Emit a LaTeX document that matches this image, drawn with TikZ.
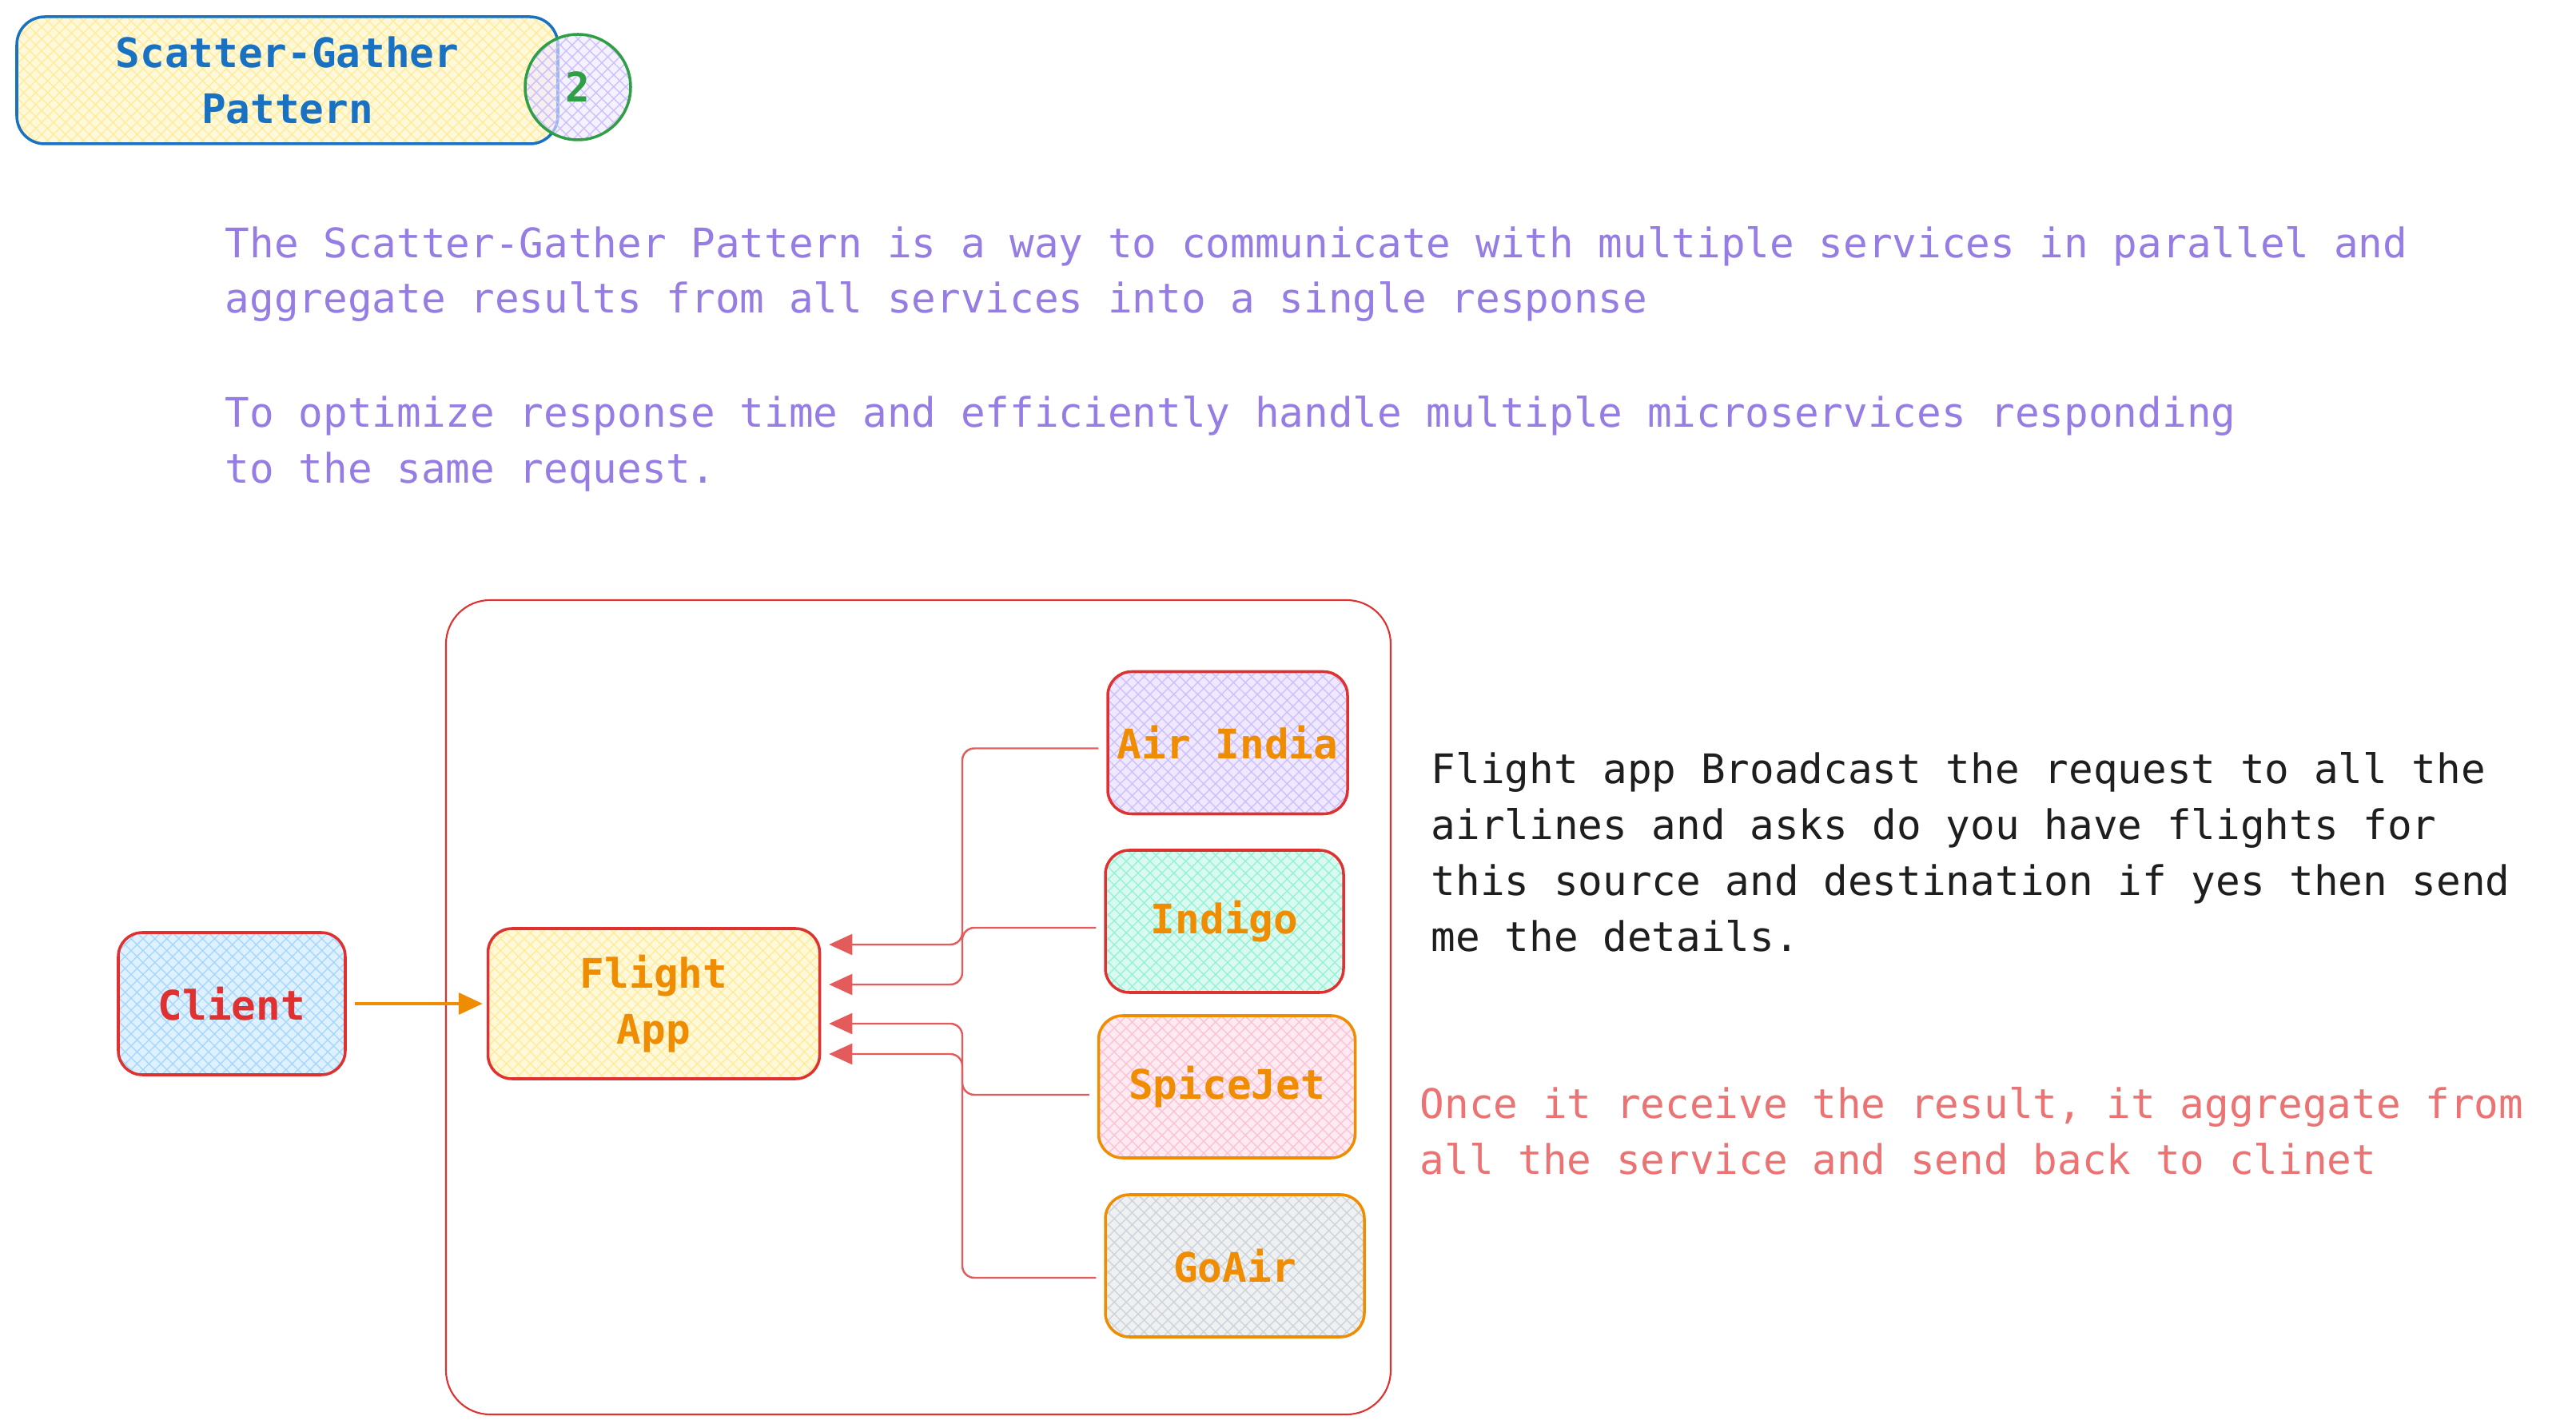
\documentclass[tikz,border=0pt]{standalone}
\usepackage{fontspec}
\setmonofont{DejaVu Sans Mono}
\usetikzlibrary{arrows.meta,patterns.meta,positioning}
\definecolor{cRed}{HTML}{E03131}
\definecolor{cLink}{HTML}{E35B5B}
\definecolor{cOrange}{HTML}{F08C00}
\definecolor{cBlue}{HTML}{1971C2}
\definecolor{cGreen}{HTML}{2F9E44}
\definecolor{cViolet}{HTML}{957DE3}
\definecolor{cNote}{HTML}{EB7373}
\definecolor{cInk}{HTML}{1E1E1E}
\definecolor{bgYellow}{HTML}{FFEC99}
\definecolor{bgBlue}{HTML}{A5D8FF}
\definecolor{bgViolet}{HTML}{D0BFFF}
\definecolor{bgTeal}{HTML}{96F2D7}
\definecolor{bgPink}{HTML}{FCC2D7}
\definecolor{bgGray}{HTML}{CED4DA}
\begin{document}
\begin{tikzpicture}[
    font=\ttfamily\fontsize{14.5}{19.9}\selectfont,
    hatched/.style={preaction={fill=#1!35}, pattern={Hatch[angle=45,distance=3pt,line width=0.4pt]}, pattern color=#1},
    card/.style={draw=#1, line width=1pt, rounded corners=0.3cm, minimum height=1.78cm, align=center, font=\ttfamily\bfseries\fontsize{14.5}{19.9}\selectfont},
    link/.style={cLink, line width=0.7pt, rounded corners=0.15cm, -{Triangle[length=2.9mm,width=2.6mm]}},
  ]
    \useasboundingbox (0, 0) rectangle (32.23, 17.86);
    % heading
    \node[card=cBlue, hatched=bgYellow, rounded corners=0.35cm, minimum width=6.77cm, minimum height=1.59cm, text=cBlue] (title) at (3.595, 16.855) {Scatter-Gather\\Pattern};
    \node[circle, draw=cGreen, line width=1pt, minimum size=1.32cm, hatched=bgViolet, fill opacity=0.6, text opacity=1, text=cGreen, font=\ttfamily\bfseries\fontsize{14.5}{19.9}\selectfont] (num) at (7.23, 16.77) {2};
    \node[anchor=west, align=left, inner sep=0, text=cViolet] (intro) at (2.81, 14.43)
         {The Scatter-Gather Pattern is a way to communicate with multiple services in parallel and\\aggregate results from all services into a single response};
    \node[anchor=west, align=left, inner sep=0, text=cViolet] (goal) at (2.81, 12.31)
         {To optimize response time and efficiently handle multiple microservices responding\\to the same request.};
    % system boundary
    \draw[cRed, line width=0.6pt, rounded corners=0.55cm] (5.58, 10.35) rectangle (17.40, 0.16);
    \node[card=cRed, hatched=bgBlue, minimum width=2.84cm, text=cRed] (client) at (2.90, 5.30) {Client};
    \node[card=cRed, hatched=bgYellow, minimum width=4.15cm, minimum height=1.88cm, text=cOrange, right=1.75cm of client] (flight) {Flight\\App};
    \node[card=cRed, hatched=bgViolet, minimum width=3.0cm, text=cOrange] (air) at (15.36, 8.565) {Air India};
    \node[card=cRed, hatched=bgTeal, minimum width=2.98cm, text=cOrange] (indigo) at (15.32, 6.33) {Indigo};
    \node[card=cOrange, hatched=bgPink, minimum width=3.21cm, text=cOrange] (spice) at (15.35, 4.26) {SpiceJet};
    \node[card=cOrange, hatched=bgGray, minimum width=3.24cm, text=cOrange] (goair) at (15.45, 2.02) {GoAir};
    \draw[cOrange, line width=1.1pt, -{Triangle[length=3mm,width=2.7mm]}] ([xshift=1mm]client.east) -- ([xshift=-0.5mm]flight.west);
    % replies gathered into the flight app
    \coordinate (bus) at (12.04, 0);
    \draw[link] ([shift={(-1mm,-0.7mm)}]air.west) -- ([yshift=-0.7mm]bus |- air.west) |- ([shift={(1mm,7.4mm)}]flight.east);
    \draw[link] ([shift={(-1mm,-0.8mm)}]indigo.west) -- ([yshift=-0.8mm]bus |- indigo.west) |- ([shift={(1mm,2.4mm)}]flight.east);
    \draw[link] ([shift={(-1mm,-1mm)}]spice.west) -- ([yshift=-1mm]bus |- spice.west) |- ([shift={(1mm,-2.5mm)}]flight.east);
    \draw[link] ([shift={(-1mm,-1.5mm)}]goair.west) -- ([yshift=-1.5mm]bus |- goair.west) |- ([shift={(1mm,-6.3mm)}]flight.east);
    % notes
    \node[anchor=west, align=left, inner sep=0, text=cInk] (broadcast) at (17.90, 7.20)
         {Flight app Broadcast the request to all the\\airlines and asks do you have flights for\\this source and destination if yes then send\\me the details.};
    \node[anchor=west, align=left, inner sep=0, text=cNote] (gather) at (17.76, 3.71)
         {Once it receive the result, it aggregate from\\all the service and send back to clinet};
  \end{tikzpicture}
\end{document}
